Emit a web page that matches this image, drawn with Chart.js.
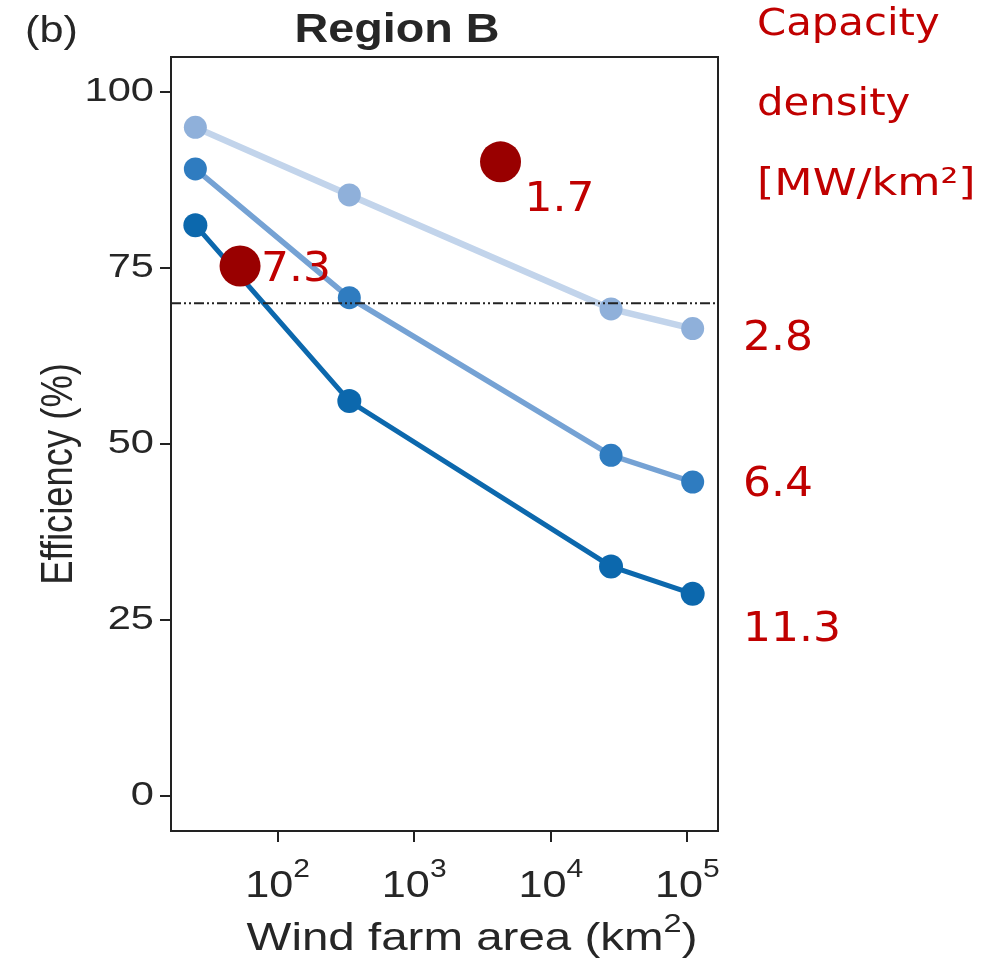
<!DOCTYPE html>
<html>
<head>
<meta charset="utf-8">
<script src="https://cdn.jsdelivr.net/npm/chart.js@4.4.1/dist/chart.umd.min.js"></script>
<style>
html,body{margin:0;padding:0;background:#fff;}
#c{display:block;}
</style>
</head>
<body>
<canvas id="c" width="996" height="961"></canvas>
<script>
// ---- data ----
const areaKm2 = [25, 335, 27600, 109300];
const eff_2_8 = [95.0, 85.4, 69.2, 66.4];
const eff_6_4 = [89.1, 70.8, 48.4, 44.6];
const eff_11_3 = [81.1, 56.1, 32.6, 28.7];
const seriesLabels = ['2.8', '6.4', '11.3'];
const refArea = [4285, 53.1];
const refEff = [90.1, 75.3];
const refLabels = ['1.7', '7.3'];
const thresholdEff = 70;
const xTickValues = [100, 1000, 10000, 100000];
const yTickValues = [0, 25, 50, 75, 100];
const titleText = 'Region B';
const panelText = '(b)';
const yTitle = 'Efficiency (%)';
const xTitle = 'Wind farm area (km';
const legendTitle = ['Capacity', 'density', '[MW/km²]'];

const X_MIN = 16.58, X_MAX = 167500, Y_MIN = -5, Y_MAX = 105;

const pts = (xs, ys) => xs.map((x, i) => ({x: x, y: ys[i]}));

const SANS = '"Liberation Sans", Arial, Helvetica, sans-serif';
const RED_FONT = '"DejaVu Sans", Verdana, sans-serif';
const RED = '#c00000';
const DARK = '#262626';

function txt(ctx, s, x, y, font, color, align, sx, sy) {
  ctx.save();
  ctx.font = font;
  ctx.fillStyle = color;
  ctx.textAlign = align || 'left';
  ctx.textBaseline = 'alphabetic';
  ctx.translate(x, y);
  ctx.scale(sx || 1, sy || 1);
  ctx.fillText(s, 0, 0);
  ctx.restore();
}

const decor = {
  id: 'decor',
  beforeDatasetsDraw(chart) {
    const ctx = chart.ctx;
    const a = chart.chartArea;
    ctx.save();
    ctx.strokeStyle = '#222';
    ctx.lineWidth = 2;
    ctx.strokeRect(a.left, a.top, a.right - a.left, a.bottom - a.top);
    ctx.restore();
  },
  afterDraw(chart) {
    const ctx = chart.ctx;
    const a = chart.chartArea;
    const xs = chart.scales.x, ys = chart.scales.y;
    // panel letter and title
    txt(ctx, panelText, 25, 42, '36px ' + SANS, DARK, 'left', 1.2);
    txt(ctx, titleText, 397, 42, 'bold 41px ' + SANS, DARK, 'center', 1.14);
    // y tick labels
    ys.ticks.forEach(t => {
      const py = ys.getPixelForValue(t.value);
      txt(ctx, String(t.value), a.left - 17, py + 9, '32.5px ' + SANS, DARK, 'right', 1.28);
    });
    // x tick labels with superscript exponent
    xs.ticks.forEach(t => {
      const px = xs.getPixelForValue(t.value);
      const e = String(Math.round(Math.log10(t.value)));
      const sxx = 1.2;
      ctx.save();
      ctx.font = '36px ' + SANS;
      const w1 = ctx.measureText('10').width * sxx;
      ctx.font = '25px ' + SANS;
      const w2 = ctx.measureText(e).width * sxx;
      ctx.restore();
      const x0 = px - (w1 + w2) / 2;
      txt(ctx, '10', x0, 897, '36px ' + SANS, DARK, 'left', sxx);
      txt(ctx, e, x0 + w1, 877, '25px ' + SANS, DARK, 'left', sxx);
    });
    // y axis title (rotated)
    ctx.save();
    ctx.translate(72, (a.top + a.bottom) / 2 + 30);
    ctx.rotate(-Math.PI / 2);
    ctx.scale(1.07, 1.3);
    ctx.font = '34px ' + SANS;
    ctx.fillStyle = DARK;
    ctx.textAlign = 'center';
    ctx.fillText(yTitle, 0, 0);
    ctx.restore();
    // x axis title with superscript 2
    ctx.save();
    ctx.font = '38px ' + SANS;
    const sxT = 1.25;
    const wA = ctx.measureText(xTitle).width * sxT;
    ctx.font = '26px ' + SANS;
    const wB = ctx.measureText('2').width * sxT;
    ctx.font = '38px ' + SANS;
    const wC = ctx.measureText(')').width * sxT;
    ctx.restore();
    const xt0 = 472 - (wA + wB + wC) / 2;
    txt(ctx, xTitle, xt0, 950, '38px ' + SANS, DARK, 'left', sxT);
    txt(ctx, '2', xt0 + wA, 932, '26px ' + SANS, DARK, 'left', sxT);
    txt(ctx, ')', xt0 + wA + wB, 950, '38px ' + SANS, DARK, 'left', sxT);
    // red legend title
    const lsx = [1.13, 1.13, 1.2];
    legendTitle.forEach((s, i) => {
      txt(ctx, s, 757, 35 + i * 80, '37px ' + RED_FONT, RED, 'left', lsx[i]);
    });
    // series labels on the right
    const serY = [350, 496, 641];
    seriesLabels.forEach((s, i) => {
      txt(ctx, s, 743, serY[i], '40px ' + RED_FONT, RED, 'left', 1.1);
    });
    // labels next to reference dots
    const offs = [[24, 49], [21, 15]];
    refLabels.forEach((s, i) => {
      const px = xs.getPixelForValue(refArea[i]);
      const py = ys.getPixelForValue(refEff[i]);
      txt(ctx, s, px + offs[i][0], py + offs[i][1], '40px ' + RED_FONT, RED, 'left', 1.1);
    });
  }
};

new Chart(document.getElementById('c'), {
  type: 'line',
  data: {
    datasets: [
      {
        label: seriesLabels[0], data: pts(areaKm2, eff_2_8),
        borderColor: '#c2d4eb', backgroundColor: '#8fb0da', pointBackgroundColor: '#8fb0da',
        borderWidth: 6.5, pointRadius: 11.5, pointBorderWidth: 0, order: 5
      },
      {
        label: seriesLabels[1], data: pts(areaKm2, eff_6_4),
        borderColor: '#75a2d4', backgroundColor: '#2f7cc0', pointBackgroundColor: '#2f7cc0',
        borderWidth: 5.5, pointRadius: 11.5, pointBorderWidth: 0, order: 4
      },
      {
        label: seriesLabels[2], data: pts(areaKm2, eff_11_3),
        borderColor: '#0c68ad', backgroundColor: '#0c68ad', pointBackgroundColor: '#0c68ad',
        borderWidth: 5, pointRadius: 12, pointBorderWidth: 0, order: 3
      },
      {
        label: 'threshold', data: [{x: X_MIN, y: thresholdEff}, {x: X_MAX, y: thresholdEff}],
        borderColor: '#222', borderWidth: 2, borderDash: [10, 3, 2, 3, 2, 3],
        pointRadius: 0, order: 2
      },
      {
        type: 'scatter', label: 'reference', data: pts(refArea, refEff),
        backgroundColor: '#990000', pointBackgroundColor: '#990000',
        pointRadius: 20.5, pointBorderWidth: 0, showLine: false, order: 1
      }
    ]
  },
  options: {
    responsive: false,
    animation: false,
    devicePixelRatio: 1,
    layout: {padding: {left: 0, top: 57, right: 278, bottom: 0}},
    plugins: {legend: {display: false}, tooltip: {enabled: false}, title: {display: false}},
    scales: {
      x: {
        type: 'logarithmic', min: X_MIN, max: X_MAX,
        afterBuildTicks: s => { s.ticks = xTickValues.map(v => ({value: v})); },
        afterFit: s => { s.height = 130; },
        ticks: {display: false},
        grid: {drawOnChartArea: false, drawTicks: true, tickLength: 11, color: '#222', lineWidth: 2},
        border: {display: false}
      },
      y: {
        type: 'linear', min: Y_MIN, max: Y_MAX,
        afterBuildTicks: s => { s.ticks = yTickValues.map(v => ({value: v})); },
        afterFit: s => { s.width = 171; },
        ticks: {display: false},
        grid: {drawOnChartArea: false, drawTicks: true, tickLength: 11, color: '#222', lineWidth: 2},
        border: {display: false}
      }
    }
  },
  plugins: [decor]
});
</script>
</body>
</html>
